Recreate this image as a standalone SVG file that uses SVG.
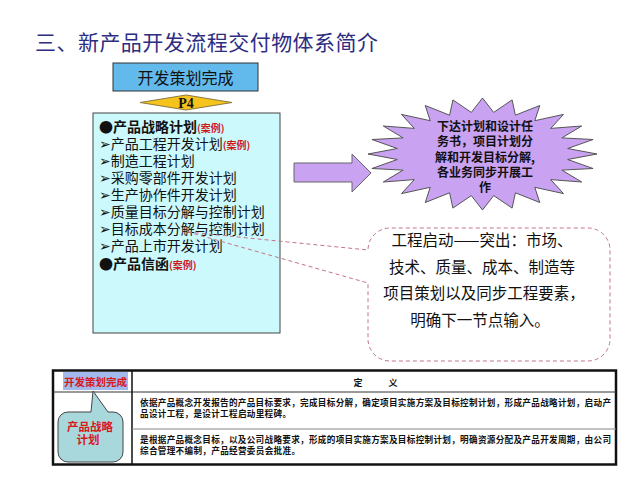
<svg xmlns="http://www.w3.org/2000/svg" width="640" height="480" viewBox="0 0 640 480">
<style>
.cjk{font-family:"Noto Sans CJK SC","DejaVu Sans",sans-serif;}
.item{font-size:14px;fill:#111;}
.bold{font-weight:bold;}
.case{font-size:10px;font-weight:bold;fill:#d01818;}
.burst{font-size:12px;font-weight:bold;fill:#111;text-anchor:middle;}
.call{font-size:15.5px;fill:#111;text-anchor:middle;}
.cell{font-size:8.6px;font-weight:bold;fill:#111;}
</style>
<rect width="640" height="480" fill="#ffffff"/>
<text x="35" y="50" class="cjk" font-size="21" fill="#2d2d82" textLength="343" lengthAdjust="spacing">三、新产品开发流程交付物体系简介</text>

<g id="node-milestone">
<rect x="113" y="63" width="145" height="28" fill="#62b9ec" stroke="#333" stroke-width="1"/>
<text x="185.5" y="83.5" class="cjk" font-size="16" text-anchor="middle" fill="#111">开发策划完成</text>
</g>

<g id="node-p4">
<polygon points="140,102.5 186,95 232,102.5 186,110" fill="#f6c21c" stroke="#8a7a40" stroke-width="1"/>
<text x="186" y="107.5" font-family="Liberation Serif,serif" font-size="14" font-weight="bold" text-anchor="middle" fill="#111">P4</text>
</g>

<g id="node-deliverables">
<rect x="93" y="113" width="187" height="220" fill="#ccf9fc" stroke="#444" stroke-width="1"/>
<text x="99" y="132" class="cjk item bold">●产品战略计划<tspan class="case">(案例)</tspan></text>
<text x="99" y="149" class="cjk item">➢产品工程开发计划<tspan class="case">(案例)</tspan></text>
<text x="99" y="166" class="cjk item">➢制造工程计划</text>
<text x="99" y="183" class="cjk item">➢采购零部件开发计划</text>
<text x="99" y="200" class="cjk item">➢生产协作件开发计划</text>
<text x="99" y="217" class="cjk item">➢质量目标分解与控制计划</text>
<text x="99" y="234" class="cjk item">➢目标成本分解与控制计划</text>
<text x="99" y="251" class="cjk item">➢产品上市开发计划</text>
<text x="99" y="268.5" class="cjk item bold">●产品信函<tspan class="case">(案例)</tspan></text>
</g>

<g id="connectors">
<polygon points="294,163 352,163 352,154 371,173 352,192 352,182 294,182" fill="#c9a2f2" stroke="#666" stroke-width="1"/>
</g>

<g id="node-burst">
<polygon points="482.5,98 493.7,112.4 512.1,99.9 515.4,115.2 539.75,105.5 534.8,120.7 563.5,114.4 550.7,128.4 581.7,126 561.9,137.9 593.1,139.5 567.7,148.5 597,154 567.7,159.5 593.1,168.5 561.9,170.1 581.7,182 550.7,179.6 563.5,193.6 534.8,187.3 539.75,202.5 515.4,192.8 512.1,208.1 493.7,195.6 482.5,210 471.3,195.6 452.9,208.1 449.6,192.8 425.25,202.5 430.2,187.3 401.5,193.6 414.3,179.6 383.3,182 403.1,170.1 371.9,168.5 397.3,159.5 368,154 397.3,148.5 371.9,139.5 403.1,137.9 383.3,126 414.3,128.4 401.5,114.4 430.2,120.7 425.25,105.5 449.6,115.2 452.9,99.9 471.3,112.4" fill="#c9a2f2" stroke="#555" stroke-width="1"/>
<text x="485" y="130.5" class="cjk burst">下达计划和设计任</text>
<text x="485" y="146" class="cjk burst">务书，项目计划分</text>
<text x="485" y="161.5" class="cjk burst">解和开发目标分解,</text>
<text x="485" y="176.5" class="cjk burst">各业务同步开展工</text>
<text x="485" y="191.5" class="cjk burst">作</text>
</g>

<g id="node-callout">
<path d="M188,232 L368,250 A22,22 0 0 1 390,228 L588,228 A22,22 0 0 1 610,250 L610,339 A22,22 0 0 1 588,361 L390,361 A22,22 0 0 1 368,339 L368,283 Z" fill="none" stroke="#c47486" stroke-width="1" stroke-dasharray="4,3"/>
<text x="482" y="246" class="cjk call">工程启动——突出：市场、</text>
<text x="482" y="272.5" class="cjk call">技术、质量、成本、制造等</text>
<text x="484" y="299" class="cjk call">项目策划以及同步工程要素，</text>
<text x="480" y="325.5" class="cjk call">明确下一节点输入。</text>
</g>

<g id="node-table">
<rect x="53" y="370.5" width="563" height="94" fill="#ffffff" stroke="#111" stroke-width="2.5"/>
<line x1="53" y1="392" x2="616" y2="392" stroke="#333" stroke-width="1"/>
<line x1="132" y1="370.5" x2="132" y2="464.5" stroke="#111" stroke-width="1.5"/>
<line x1="132" y1="429" x2="616" y2="429" stroke="#888" stroke-width="1"/>
<rect x="63" y="372" width="65" height="18" fill="#a2b9ee"/>
<text x="95.5" y="385.5" class="cjk" font-size="10.5" font-weight="bold" text-anchor="middle" fill="#d8181c">开发策划完成</text>
<text x="358" y="386" class="cjk" font-size="9" font-weight="bold" text-anchor="middle" fill="#111">定</text>
<text x="393" y="386" class="cjk" font-size="9" font-weight="bold" text-anchor="middle" fill="#111">义</text>
<text x="140" y="406" class="cjk cell" textLength="471" lengthAdjust="spacing">依据产品概念开发报告的产品目标要求，完成目标分解，确定项目实施方案及目标控制计划，形成产品战略计划，启动产</text>
<text x="140" y="416.8" class="cjk cell" textLength="151" lengthAdjust="spacing">品设计工程，是设计工程启动里程碑。</text>
<text x="140" y="443" class="cjk cell" textLength="471" lengthAdjust="spacing">是根据产品概念目标，以及公司战略要求，形成的项目实施方案及目标控制计划，明确资源分配及产品开发周期，由公司</text>
<text x="140" y="453.8" class="cjk cell" textLength="160" lengthAdjust="spacing">综合管理不编制，产品经营委员会批准。</text>
</g>

<g id="node-bubble">
<path d="M68,412 L91,412 L93,391 L108,412 L113,412 A10,10 0 0 1 123,422 L123,452 A10,10 0 0 1 113,462 L68,462 A10,10 0 0 1 58,452 L58,422 A10,10 0 0 1 68,412 Z" fill="#a9d8dc" stroke="#444" stroke-width="1"/>
<text x="90" y="430.5" class="cjk" font-size="11.5" font-weight="bold" text-anchor="middle" fill="#d8181c">产品战略</text>
<text x="88" y="444" class="cjk" font-size="11.5" font-weight="bold" text-anchor="middle" fill="#d8181c">计划</text>
</g>
</svg>
